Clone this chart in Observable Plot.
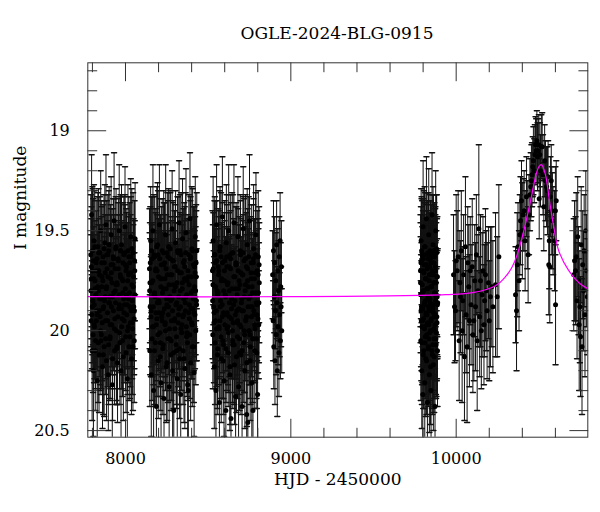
<!DOCTYPE html>
<html><head><meta charset="utf-8">
<script src="https://cdn.jsdelivr.net/npm/d3@7"></script>
<script src="https://cdn.jsdelivr.net/npm/@observablehq/plot@0.6"></script>
<style>
body{margin:0;background:#fff;}
#wrap{width:600px;font-family:"DejaVu Serif",serif;color:#000;}
#title{height:25px;padding-top:25px;font-size:17px;line-height:17px;text-align:center;padding-left:74px;}
</style></head><body><div id="wrap"><div id="title">OGLE-2024-BLG-0915</div><div id="chart"></div></div>
<script>
// Observations per season: [HJD-2450000, I mag, error]
const season1 = [[7790,19.62,0.30],[7792,19.95,0.25],[7795,19.42,0.30],[7798,20.10,0.35],[7800,19.70,0.42],[7803,19.85,0.22],[7806,20.20,0.33],[7809,19.55,0.28],[7812,19.98,0.26],[7815,19.75,0.30],[7819,20.05,0.24],[7822,19.66,0.31],[7826,19.90,0.28],[7829,20.25,0.36],[7833,19.58,0.27],[7836,19.80,0.33],[7840,20.12,0.29],[7843,19.72,0.25],[7847,19.93,0.34],[7850,19.50,0.30],[7854,20.02,0.27],[7857,19.78,0.40],[7861,20.18,0.31],[7864,19.63,0.26],[7868,19.88,0.30],[7871,20.08,0.35],[7875,19.56,0.29],[7878,19.83,0.24],[7882,19.47,0.35],[7885,20.15,0.30],[7889,19.69,0.27],[7892,19.95,0.33],[7896,20.22,0.28],[7899,19.60,0.30],[7903,19.86,0.26],[7906,20.04,0.31],[7910,19.74,0.37],[7913,19.52,0.29],[7917,19.97,0.25],[7920,20.27,0.32],[7924,19.67,0.28],[7927,19.90,0.30],[7931,19.45,0.34],[7934,20.10,0.27],[7938,19.80,0.31],[7941,19.59,0.26],[7945,20.00,0.35],[7948,19.76,0.29],[7952,20.16,0.30],[7955,19.64,0.28],[7959,19.89,0.25],[7962,19.50,0.33],[7966,20.06,0.31],[7969,19.73,0.27],[7973,20.20,0.36],[7976,19.57,0.30],[7980,19.94,0.28],[7983,19.81,0.24],[7987,20.13,0.32],[7990,19.62,0.29],[7994,19.87,0.35],[7997,19.48,0.30],[8001,20.03,0.27],[8004,19.70,0.31],[8008,19.92,0.26],[8011,20.24,0.30],[8015,19.60,0.33],[8018,19.84,0.28],[8022,20.08,0.27],[8025,19.66,0.30],[8029,19.96,0.32],[8032,19.53,0.29],[8036,20.14,0.28],[8039,19.77,0.26],[8043,19.99,0.33],[8046,19.61,0.30],[8050,19.88,0.27],[8053,20.05,0.31],[8056,19.70,0.25],[8058,19.54,0.28]];
const season1b = [[7791,19.80,0.28],[7794,19.68,0.30],[7797,19.92,0.27],[7801,19.60,0.31],[7804,20.02,0.29],[7808,19.74,0.26],[7811,19.87,0.32],[7814,19.58,0.28],[7817,20.10,0.30],[7821,19.82,0.27],[7824,19.95,0.29],[7828,19.64,0.31],[7831,19.78,0.28],[7835,20.06,0.30],[7838,19.70,0.26],[7842,19.90,0.33],[7845,19.61,0.28],[7849,20.00,0.30],[7852,19.84,0.27],[7856,19.66,0.31],[7859,19.96,0.29],[7863,19.75,0.28],[7866,20.12,0.30],[7870,19.59,0.27],[7873,19.85,0.32],[7877,19.71,0.29],[7880,20.04,0.28],[7884,19.79,0.30],[7887,19.62,0.27],[7891,19.91,0.31],[7894,19.73,0.28],[7898,20.07,0.30],[7901,19.57,0.29],[7905,19.83,0.27],[7908,19.97,0.32],[7912,19.67,0.28],[7915,19.88,0.30],[7919,19.76,0.27],[7922,20.14,0.31],[7926,19.63,0.29],[7929,19.81,0.28],[7933,19.99,0.30],[7936,19.69,0.27],[7940,19.86,0.32],[7943,19.58,0.29],[7947,20.09,0.28],[7950,19.77,0.30],[7954,19.93,0.27],[7957,19.65,0.31],[7961,19.82,0.29],[7964,20.01,0.28],[7968,19.72,0.30],[7971,19.60,0.27],[7975,19.89,0.32],[7978,19.74,0.29],[7982,20.05,0.28],[7985,19.66,0.30],[7989,19.84,0.27],[7992,19.95,0.31],[7996,19.61,0.29],[7999,19.79,0.28],[8003,20.11,0.30],[8006,19.68,0.27],[8010,19.87,0.32],[8013,19.75,0.29],[8017,19.98,0.28],[8020,19.63,0.30],[8024,19.81,0.27],[8027,20.03,0.31],[8031,19.71,0.29],[8034,19.90,0.28],[8038,19.59,0.30],[8041,19.85,0.27],[8045,20.08,0.32],[8048,19.73,0.29],[8052,19.94,0.28],[8055,19.65,0.30],[8057,19.82,0.27]];
const season1c = [[7793,19.74,0.30],[7799,19.88,0.28],[7805,19.65,0.31],[7810,19.97,0.29],[7816,19.79,0.27],[7823,19.70,0.30],[7830,19.92,0.28],[7837,19.61,0.32],[7844,19.84,0.29],[7851,20.05,0.27],[7858,19.73,0.30],[7865,19.89,0.28],[7872,19.66,0.31],[7879,19.95,0.29],[7886,19.78,0.27],[7893,19.62,0.30],[7900,19.86,0.28],[7907,20.03,0.31],[7914,19.71,0.29],[7921,19.83,0.27],[7928,19.64,0.30],[7935,19.94,0.28],[7942,19.77,0.32],[7949,20.08,0.29],[7956,19.69,0.27],[7963,19.87,0.30],[7970,19.60,0.28],[7977,19.98,0.31],[7984,19.75,0.29],[7991,19.91,0.27],[7998,19.67,0.30],[8005,19.82,0.28],[8012,20.00,0.32],[8019,19.72,0.29],[8026,19.88,0.27],[8033,19.63,0.30],[8040,19.96,0.28],[8047,19.78,0.31],[8054,19.90,0.29]];
const season2 = [[8145,19.69,0.30],[8147,20.10,0.28],[8149,19.88,0.34],[8152,19.55,0.27],[8156,20.22,0.31],[8159,19.76,0.29],[8163,19.98,0.25],[8166,19.50,0.33],[8170,20.30,0.36],[8173,19.82,0.27],[8177,19.63,0.30],[8180,20.06,0.32],[8184,19.91,0.26],[8187,20.38,0.34],[8191,19.70,0.28],[8194,19.57,0.31],[8198,20.15,0.29],[8201,19.85,0.35],[8205,19.47,0.30],[8208,20.01,0.27],[8212,19.74,0.32],[8215,20.26,0.30],[8219,19.93,0.28],[8222,19.60,0.26],[8226,20.09,0.33],[8229,19.79,0.29],[8233,20.34,0.31],[8236,19.66,0.30],[8240,19.96,0.27],[8243,19.52,0.35],[8247,20.18,0.28],[8250,19.87,0.30],[8254,19.72,0.26],[8257,20.04,0.32],[8261,19.58,0.29],[8264,20.28,0.30],[8268,19.83,0.27],[8271,19.64,0.33],[8275,20.12,0.28],[8278,19.95,0.31],[8282,19.49,0.29],[8285,20.20,0.34],[8289,19.77,0.27],[8292,20.40,0.30],[8296,19.68,0.28],[8299,19.99,0.32],[8303,19.56,0.26],[8306,20.07,0.30],[8310,19.86,0.29],[8313,20.24,0.35],[8317,19.61,0.28],[8320,19.92,0.27],[8324,19.46,0.31],[8327,20.14,0.30],[8331,19.80,0.26],[8334,20.32,0.33],[8338,19.71,0.29],[8341,19.97,0.28],[8345,19.54,0.30],[8348,20.10,0.27],[8352,19.84,0.34],[8355,19.65,0.29],[8359,20.19,0.30],[8362,19.90,0.26],[8366,19.51,0.32],[8369,20.03,0.28],[8373,19.75,0.31],[8376,20.27,0.29],[8380,20.30,0.27],[8383,19.62,0.30],[8387,19.94,0.28],[8390,19.44,0.33],[8394,20.16,0.29],[8397,19.81,0.27],[8401,19.59,0.31],[8404,20.08,0.30],[8408,19.89,0.26],[8411,19.67,0.29],[8415,20.21,0.32],[8418,19.78,0.28],[8422,19.53,0.30],[8425,20.00,0.27],[8428,19.73,0.33],[8431,19.60,0.29]];
const season2b = [[8146,19.80,0.29],[8150,19.66,0.28],[8154,19.93,0.30],[8158,19.60,0.27],[8161,20.04,0.31],[8165,19.75,0.29],[8168,19.88,0.28],[8172,19.62,0.30],[8175,20.10,0.27],[8179,19.83,0.32],[8182,19.70,0.29],[8186,19.97,0.28],[8189,19.58,0.30],[8193,19.86,0.27],[8196,20.02,0.31],[8200,19.73,0.29],[8203,19.91,0.28],[8207,19.64,0.30],[8210,20.13,0.27],[8214,19.78,0.32],[8217,19.67,0.29],[8221,19.95,0.28],[8224,19.81,0.30],[8228,20.07,0.27],[8231,19.61,0.31],[8235,19.89,0.29],[8238,19.74,0.28],[8242,20.00,0.30],[8245,19.69,0.27],[8249,19.84,0.32],[8252,20.16,0.29],[8256,19.63,0.28],[8259,19.92,0.30],[8263,19.77,0.27],[8266,19.99,0.31],[8270,19.59,0.29],[8273,19.85,0.28],[8277,20.05,0.30],[8280,19.72,0.27],[8284,19.90,0.32],[8287,19.65,0.29],[8291,20.11,0.28],[8294,19.80,0.30],[8298,19.94,0.27],[8301,19.68,0.31],[8305,19.87,0.29],[8308,20.03,0.28],[8312,19.76,0.30],[8315,19.60,0.27],[8319,19.96,0.32],[8322,19.83,0.29],[8326,20.09,0.28],[8329,19.71,0.30],[8333,19.88,0.27],[8336,19.62,0.31],[8340,20.01,0.29],[8343,19.79,0.28],[8347,19.93,0.30],[8350,19.66,0.27],[8354,20.14,0.32],[8357,19.74,0.29],[8361,19.86,0.28],[8364,19.61,0.30],[8368,19.98,0.27],[8371,19.82,0.31],[8375,20.06,0.29],[8378,19.70,0.28],[8382,19.91,0.30],[8385,19.77,0.27],[8389,20.02,0.32],[8392,19.64,0.29],[8396,19.89,0.28],[8399,19.73,0.30],[8403,19.97,0.27],[8406,19.60,0.31],[8410,19.84,0.29],[8413,20.08,0.28],[8417,19.68,0.30],[8420,19.92,0.27],[8424,19.80,0.32],[8427,19.66,0.29],[8430,19.87,0.28]];
const season2c = [[8148,19.76,0.30],[8155,19.90,0.28],[8162,19.64,0.31],[8169,19.98,0.29],[8176,19.81,0.27],[8183,19.69,0.30],[8190,19.94,0.28],[8197,19.62,0.32],[8204,19.86,0.29],[8211,20.06,0.27],[8218,19.74,0.30],[8225,19.91,0.28],[8232,19.67,0.31],[8239,19.97,0.29],[8246,19.79,0.27],[8253,19.61,0.30],[8260,19.88,0.28],[8267,20.04,0.31],[8274,19.72,0.29],[8281,19.84,0.27],[8288,19.65,0.30],[8295,19.95,0.28],[8302,19.78,0.32],[8309,20.10,0.29],[8316,19.70,0.27],[8323,19.89,0.30],[8330,19.60,0.28],[8337,19.99,0.31],[8344,19.76,0.29],[8351,19.92,0.27],[8358,19.68,0.30],[8365,19.83,0.28],[8372,20.01,0.32],[8379,19.73,0.29],[8386,19.87,0.27],[8393,19.63,0.30],[8400,19.96,0.28],[8407,19.80,0.31],[8414,19.91,0.29],[8421,19.71,0.28],[8429,19.85,0.30]];
const season3 = [[8526,19.70,0.30],[8528,20.02,0.27],[8530,19.55,0.32],[8533,19.88,0.28],[8537,20.18,0.31],[8540,19.62,0.29],[8544,19.95,0.34],[8547,20.30,0.28],[8551,19.47,0.30],[8554,19.80,0.27],[8558,20.09,0.33],[8561,19.68,0.29],[8565,19.98,0.26],[8568,20.36,0.31],[8572,19.58,0.30],[8575,19.85,0.28],[8579,20.14,0.32],[8582,19.74,0.27],[8586,19.43,0.30],[8589,20.05,0.29],[8593,19.91,0.35],[8596,20.25,0.28],[8600,19.65,0.30],[8603,19.82,0.27],[8607,20.40,0.32],[8610,19.56,0.29],[8614,19.99,0.31],[8617,19.77,0.28],[8621,20.11,0.27],[8624,19.50,0.33],[8628,19.93,0.30],[8631,20.22,0.28],[8635,19.69,0.29],[8638,20.44,0.31],[8642,19.84,0.27],[8645,19.61,0.30],[8649,20.07,0.32],[8652,19.96,0.28],[8656,19.46,0.29],[8659,20.17,0.30],[8663,19.79,0.27],[8666,20.33,0.34],[8670,19.67,0.29],[8673,19.90,0.28],[8677,20.03,0.31],[8680,19.53,0.30],[8684,20.28,0.27],[8687,19.75,0.32],[8691,19.97,0.29],[8694,19.60,0.28],[8698,20.12,0.30],[8701,19.86,0.33],[8705,20.38,0.29],[8708,19.72,0.27],[8712,19.49,0.31],[8715,20.06,0.30],[8719,19.83,0.28],[8722,20.20,0.29],[8726,19.64,0.32],[8729,19.94,0.27],[8733,20.42,0.30],[8736,19.57,0.28],[8740,20.46,0.31],[8743,19.78,0.29],[8747,20.00,0.27],[8750,19.45,0.33],[8754,20.15,0.30],[8757,19.88,0.28],[8761,19.66,0.29],[8764,20.26,0.31],[8768,19.81,0.27],[8771,20.40,0.30],[8775,19.59,0.32],[8778,19.92,0.28],[8782,20.10,0.29],[8785,19.71,0.27],[8789,19.52,0.31],[8792,20.04,0.30],[8796,19.87,0.28],[8799,20.32,0.29],[8803,19.63,0.33],[8806,19.97,0.27],[8809,19.76,0.30]];
const season3b = [[8527,19.85,0.29],[8531,19.69,0.28],[8535,19.96,0.30],[8538,19.62,0.27],[8542,20.06,0.31],[8545,19.78,0.29],[8549,19.90,0.28],[8552,19.65,0.30],[8556,20.12,0.27],[8559,19.81,0.32],[8563,19.72,0.29],[8566,19.99,0.28],[8570,19.60,0.30],[8573,19.88,0.27],[8577,20.03,0.31],[8580,19.75,0.29],[8584,19.93,0.28],[8587,19.66,0.30],[8591,20.15,0.27],[8594,19.80,0.32],[8598,19.70,0.29],[8601,19.97,0.28],[8605,19.83,0.30],[8608,20.09,0.27],[8612,19.63,0.31],[8615,19.91,0.29],[8619,19.76,0.28],[8622,20.01,0.30],[8626,19.68,0.27],[8629,19.86,0.32],[8633,20.18,0.29],[8636,19.64,0.28],[8640,19.94,0.30],[8643,19.79,0.27],[8647,20.00,0.31],[8650,19.61,0.29],[8654,19.87,0.28],[8657,20.07,0.30],[8661,19.73,0.27],[8664,19.92,0.32],[8668,19.67,0.29],[8671,20.13,0.28],[8675,19.82,0.30],[8678,19.95,0.27],[8682,19.70,0.31],[8685,19.89,0.29],[8689,20.04,0.28],[8692,19.77,0.30],[8696,19.62,0.27],[8699,19.98,0.32],[8703,19.84,0.29],[8706,20.10,0.28],[8710,19.72,0.30],[8713,19.90,0.27],[8717,19.65,0.31],[8720,20.02,0.29],[8724,19.80,0.28],[8727,19.95,0.30],[8731,19.68,0.27],[8734,20.16,0.32],[8738,19.75,0.29],[8741,19.88,0.28],[8745,19.63,0.30],[8748,20.00,0.27],[8752,19.83,0.31],[8755,20.08,0.29],[8759,19.71,0.28],[8762,19.93,0.30],[8766,19.78,0.27],[8769,20.04,0.32],[8773,19.66,0.29],[8776,19.90,0.28],[8780,19.74,0.30],[8783,19.99,0.27],[8787,19.62,0.31],[8790,19.86,0.29],[8794,20.11,0.28],[8797,19.70,0.30],[8801,19.94,0.27],[8804,19.81,0.32],[8808,19.67,0.29]];
const season3c = [[8529,19.77,0.30],[8536,19.91,0.28],[8543,19.66,0.31],[8550,19.99,0.29],[8557,19.82,0.27],[8564,19.70,0.30],[8571,19.95,0.28],[8578,19.63,0.32],[8585,19.87,0.29],[8592,20.07,0.27],[8599,19.75,0.30],[8606,19.92,0.28],[8613,19.68,0.31],[8620,19.98,0.29],[8627,19.80,0.27],[8634,19.62,0.30],[8641,19.89,0.28],[8648,20.05,0.31],[8655,19.73,0.29],[8662,19.85,0.27],[8669,19.66,0.30],[8676,19.96,0.28],[8683,19.79,0.32],[8690,20.11,0.29],[8697,19.71,0.27],[8704,19.90,0.30],[8711,19.61,0.28],[8718,20.00,0.31],[8725,19.77,0.29],[8732,19.93,0.27],[8739,19.69,0.30],[8746,19.84,0.28],[8753,20.02,0.32],[8760,19.74,0.29],[8767,19.88,0.27],[8774,19.64,0.30],[8781,19.97,0.28],[8788,19.81,0.31],[8795,19.92,0.29],[8802,19.72,0.28],[8807,19.86,0.30]];
const season4 = [[8890,19.72,0.22],[8893,19.95,0.20],[8895,19.60,0.25],[8897,20.08,0.21],[8900,19.83,0.18],[8902,19.66,0.23],[8904,20.15,0.22],[8907,19.90,0.19],[8909,19.75,0.24],[8911,20.02,0.20],[8914,19.57,0.22],[8916,19.86,0.18],[8918,20.20,0.23],[8921,19.70,0.21],[8923,19.98,0.19],[8925,19.80,0.25],[8928,20.11,0.22],[8930,19.63,0.20],[8932,19.92,0.21],[8935,19.55,0.24],[8937,20.05,0.19],[8939,19.78,0.22],[8941,19.88,0.20],[8943,19.68,0.23],[8945,20.00,0.21]];
const season5 = [[9784,19.70,0.28],[9786,20.05,0.30],[9788,19.55,0.26],[9790,19.88,0.32],[9792,20.20,0.29],[9794,19.62,0.27],[9796,19.95,0.31],[9798,20.32,0.30],[9800,19.48,0.33],[9802,19.80,0.27],[9804,20.10,0.29],[9806,19.67,0.31],[9808,19.99,0.28],[9810,20.26,0.30],[9812,19.58,0.27],[9814,19.85,0.34],[9816,20.14,0.29],[9818,19.74,0.28],[9820,19.44,0.31],[9822,20.02,0.30],[9824,19.92,0.27],[9826,20.36,0.32],[9828,19.64,0.29],[9830,19.83,0.28],[9832,20.08,0.30],[9834,19.52,0.33],[9836,19.97,0.27],[9838,20.22,0.29],[9840,19.72,0.31],[9842,19.60,0.28],[9844,20.00,0.30],[9846,19.78,0.27],[9848,20.30,0.32],[9850,19.66,0.29],[9852,19.90,0.28],[9854,19.42,0.31],[9856,20.12,0.30],[9858,19.87,0.27],[9860,19.57,0.29],[9862,20.17,0.33],[9864,19.76,0.28],[9866,20.04,0.30],[9868,19.63,0.27],[9870,19.93,0.29],[9872,20.38,0.31],[9874,19.70,0.28],[9876,19.50,0.30],[9878,20.07,0.27],[9880,19.82,0.32],[9882,19.61,0.29],[9884,19.96,0.28],[9886,19.73,0.30],[9888,19.86,0.27]];
const season5b = [[9785,19.82,0.29],[9787,19.66,0.28],[9789,19.95,0.30],[9791,19.60,0.27],[9793,20.06,0.31],[9795,19.77,0.29],[9797,19.89,0.28],[9799,19.64,0.30],[9801,20.12,0.27],[9803,19.80,0.32],[9805,19.71,0.29],[9807,19.98,0.28],[9809,19.58,0.30],[9811,19.87,0.27],[9813,20.03,0.31],[9815,19.74,0.29],[9817,19.92,0.28],[9819,19.67,0.30],[9821,20.15,0.27],[9823,19.79,0.32],[9825,19.69,0.29],[9827,19.96,0.28],[9829,19.84,0.30],[9831,20.09,0.27],[9833,19.62,0.31],[9835,19.90,0.29],[9837,19.75,0.28],[9839,20.01,0.30],[9841,19.68,0.27],[9843,19.86,0.32],[9845,20.18,0.29],[9847,19.63,0.28],[9849,19.94,0.30],[9851,19.78,0.27],[9853,20.00,0.31],[9855,19.61,0.29],[9857,19.88,0.28],[9859,20.07,0.30],[9861,19.72,0.27],[9863,19.91,0.32],[9865,19.66,0.29],[9867,20.13,0.28],[9869,19.81,0.30],[9871,19.97,0.27],[9873,19.70,0.31],[9875,19.85,0.29],[9877,20.04,0.28],[9879,19.76,0.30],[9881,19.59,0.27],[9883,19.93,0.32],[9885,19.83,0.29],[9887,20.10,0.28]];
const season5c = [[9784.5,19.76,0.30],[9787.5,19.90,0.28],[9790.5,19.65,0.31],[9793.5,19.98,0.29],[9796.5,19.81,0.27],[9799.5,19.70,0.30],[9802.5,19.94,0.28],[9805.5,19.62,0.32],[9808.5,19.86,0.29],[9811.5,20.06,0.27],[9814.5,19.74,0.30],[9817.5,19.91,0.28],[9820.5,19.67,0.31],[9823.5,19.97,0.29],[9826.5,19.79,0.27],[9829.5,19.61,0.30],[9832.5,19.88,0.28],[9835.5,20.04,0.31],[9838.5,19.72,0.29],[9841.5,19.84,0.27],[9844.5,19.65,0.30],[9847.5,19.95,0.28],[9850.5,19.78,0.32],[9853.5,20.10,0.29],[9856.5,19.70,0.27],[9859.5,19.89,0.30],[9862.5,19.60,0.28],[9865.5,19.99,0.31],[9868.5,19.76,0.29],[9871.5,19.92,0.27],[9874.5,19.68,0.30],[9877.5,19.83,0.28],[9880.5,20.01,0.32],[9883.5,19.73,0.29],[9886.5,19.87,0.27]];
const season6 = [[9984,19.72,0.30],[9990,19.88,0.28],[9996,19.90,0.25],[10000,19.65,0.33],[10006,19.70,0.30],[10012,19.63,0.33],[10018,20.05,0.30],[10022,19.76,0.26],[10026,19.83,0.28],[10031,19.60,0.30],[10036,20.00,0.36],[10040,19.85,0.27],[10045,19.72,0.30],[10050,20.13,0.32],[10056,19.58,0.35],[10060,19.92,0.29],[10066,20.08,0.38],[10070,19.66,0.28],[10076,19.78,0.31],[10080,19.95,0.33],[10085,19.70,0.27],[10090,19.87,0.30],[10097,19.68,0.34],[10101,20.02,0.29],[10107,19.95,0.30],[10112,19.75,0.28],[10117,19.88,0.32],[10122,19.62,0.30],[10127,20.05,0.35],[10132,19.80,0.28],[10137,19.49,0.42],[10142,19.93,0.30],[10147,19.75,0.33],[10152,20.00,0.29],[10157,19.82,0.31],[10162,19.70,0.27],[10168,19.97,0.30],[10172,19.85,0.28],[10177,19.72,0.33],[10182,19.80,0.30],[10187,19.90,0.34],[10195,19.76,0.28],[10200,19.95,0.30],[10207,19.83,0.35],[10215,19.78,0.30],[10222,19.88,0.33],[10238,19.77,0.36],[10248,19.83,0.30],[10258,19.63,0.36]];
const season7 = [[10359,19.82,0.24],[10365,19.90,0.30],[10369,19.67,0.26],[10374,19.58,0.22],[10380,19.75,0.25],[10385,19.52,0.20],[10389,19.45,0.22],[10395,19.35,0.20],[10400,19.50,0.24],[10405,19.42,0.18],[10411,19.40,0.20],[10417,19.55,0.25],[10425,19.33,0.20],[10430,19.47,0.22],[10435,19.62,0.24],[10440,19.42,0.20],[10446,19.32,0.18],[10451,19.28,0.17],[10455,19.25,0.18],[10459,19.22,0.16],[10463,19.18,0.15],[10467,19.15,0.17],[10472,19.20,0.16],[10476,19.12,0.15],[10480,19.07,0.14],[10484,19.10,0.16],[10488,19.05,0.15],[10492,19.13,0.17],[10496,19.10,0.16],[10500,19.07,0.15],[10502,19.34,0.20],[10506,19.12,0.16],[10510,19.20,0.18],[10515,19.08,0.16],[10520,19.08,0.17],[10525,19.22,0.20],[10530,19.38,0.22],[10535,19.15,0.18],[10540,19.25,0.20],[10546,19.28,0.20],[10552,19.30,0.22],[10556,19.23,0.18],[10560,19.67,0.25],[10563,19.55,0.24],[10566,19.68,0.28],[10570,19.33,0.20],[10575,19.25,0.18],[10578,19.40,0.22],[10582,19.45,0.24],[10586,19.50,0.22],[10601,19.87,0.30],[10595,19.55,0.25],[10600,19.40,0.22],[10605,19.35,0.20]];
const season8 = [[10711,19.72,0.28],[10716,19.65,0.30],[10722,19.70,0.27],[10726,19.63,0.32],[10731,19.85,0.29],[10735,19.53,0.30],[10740,19.75,0.27],[10744,19.97,0.33],[10748,19.88,0.28],[10752,20.03,0.30],[10756,19.57,0.29],[10761,20.08,0.34],[10765,19.67,0.27],[10770,19.80,0.30],[10774,19.60,0.28],[10779,19.92,0.31],[10784,19.50,0.30],[10789,19.70,0.28],[10793,19.83,0.29]];

// Model light curve
const modelT = [7772,9000,9935,10100,10238,10298,10339,10369,10409,10450,10480,10500,10516,10540,10564,10590,10620,10681,10742,10796];
const modelM = [19.83,19.83,19.82,19.81,19.775,19.73,19.68,19.62,19.50,19.35,19.23,19.18,19.17,19.22,19.35,19.48,19.60,19.70,19.76,19.79];

// Axis ticks
const xMajor = [8000, 9000, 10000];
const xMinor = [7800, 8200, 8400, 8600, 8800, 9200, 9400, 9600, 9800, 10200, 10400, 10600];
const yMajor = [19, 19.5, 20, 20.5];
const yMinor = [18.7, 18.8, 18.9, 19.1, 19.2, 19.3, 19.4, 19.6, 19.7, 19.8, 19.9, 20.1, 20.2, 20.3, 20.4];
const xDomain = [7772, 10796];
const yDomain = [18.66, 20.533];

const obs = [season1, season1b, season1c, season2, season2b, season2c, season3, season3b, season3c,
             season4, season5, season5b, season5c, season6, season7, season8]
  .flat().map(([t, m, e]) => ({t, m, e}));
const model = modelT.map((t, i) => ({t, m: modelM[i]}));

const tickShape = {draw(ctx, l) { ctx.moveTo(0, 0); ctx.lineTo(0, -l); }};
const ink = "#111";
const tk = (data, channel, anchor, rotate, len) => Plot.vector(data, {
  [channel]: d => d, frameAnchor: anchor, rotate, length: len, anchor: "start",
  shape: tickShape, stroke: "#333", strokeWidth: 1
});

const chart = Plot.plot({
  width: 600, height: 462,
  marginTop: 12.3, marginBottom: 75.3, marginLeft: 87.3, marginRight: 12.7,
  style: {fontFamily: "DejaVu Serif, serif", fontSize: "16px", color: "#000", background: "#fff"},
  x: {domain: xDomain},
  y: {domain: yDomain, reverse: true},
  marks: [
    Plot.ruleX(obs, {x: "t", y1: d => d.m - d.e, y2: d => d.m + d.e, stroke: ink, strokeWidth: 1, clip: true}),
    Plot.vector(obs, {x: "t", y: d => d.m - d.e, rotate: 90, length: 5, anchor: "middle", shape: tickShape, stroke: ink, clip: true}),
    Plot.vector(obs, {x: "t", y: d => d.m + d.e, rotate: 90, length: 5, anchor: "middle", shape: tickShape, stroke: ink, clip: true}),
    Plot.dot(obs, {x: "t", y: "m", r: 2.5, fill: "#000", clip: true}),
    Plot.line(model, {x: "t", y: "m", stroke: "#ff00ff", strokeWidth: 1.2, curve: "catmull-rom", clip: true}),
    Plot.frame({stroke: "#333", strokeWidth: 1}),
    tk(xMajor, "x", "bottom", 0, 18), tk(xMinor, "x", "bottom", 0, 9),
    tk(xMajor, "x", "top", 180, 18), tk(xMinor, "x", "top", 180, 9),
    tk(yMajor, "y", "left", 90, 18), tk(yMinor, "y", "left", 90, 9),
    tk(yMajor, "y", "right", -90, 18), tk(yMinor, "y", "right", -90, 9),
    Plot.axisX(xMajor, {tickSize: 0, tickPadding: 15, tickFormat: d => `${d}`, label: null, fontSize: 16}),
    Plot.axisY(yMajor, {tickSize: 0, tickPadding: 18, tickFormat: d => `${d}`, label: null, fontSize: 16}),
    Plot.text(["HJD - 2450000"], {frameAnchor: "bottom", dy: 48, fontSize: 17, text: d => d}),
    Plot.text(["I magnitude"], {frameAnchor: "left", dx: -67, rotate: -90, fontSize: 17, text: d => d})
  ]
});
document.getElementById("chart").appendChild(chart);
</script>
</body></html>
